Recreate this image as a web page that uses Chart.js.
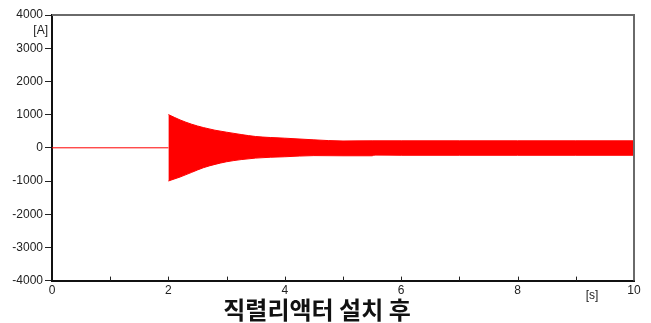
<!DOCTYPE html>
<html>
<head>
<meta charset="utf-8">
<script src="https://cdn.jsdelivr.net/npm/chart.js@4/dist/chart.umd.min.js"></script>
<style>
  html, body { margin: 0; padding: 0; background: #fff; }
  #wrap { width: 651px; height: 323px; position: relative; }
</style>
</head>
<body>
<div id="wrap"><canvas id="c" width="651" height="323"></canvas></div>
<script>
// Current waveform after installing the series reactor [A] vs time [s]
const titleText = '직렬리액터 설치 후';
const yTicks = [-4000, -3000, -2000, -1000, 0, 1000, 2000, 3000, 4000];
const xTickLabels = [0, 2, 4, 6, 8, 10];

// No current before switching
const preTime = [0, 2.0];
const preValue = [0, 0];

// Peak envelope of the oscillating current after switching at t = 2 s
const envTime  = [2.0, 2.2, 2.4, 2.6, 2.8, 3.0, 3.25, 3.5, 3.75, 4.0, 4.5, 5.0, 5.5, 5.55, 6.0, 7.0, 8.0, 9.0, 10.0];
const envUpper = [1000, 840, 710, 610, 530, 470, 400, 340, 310, 290, 240, 205, 210, 210, 210, 210, 210, 210, 210];
const envLower = [-1000, -880, -740, -600, -500, -420, -355, -310, -285, -270, -235, -240, -240, -220, -225, -225, -225, -225, -225];

const pts = (xs, ys) => xs.map((x, i) => ({ x: x, y: ys[i] }));
const RED = '#ff0000';

// Frame, inward time ticks and unit labels
const decor = {
  id: 'decor',
  afterDraw(chart) {
    const { ctx, chartArea: a, scales } = chart;
    const xs = scales.x;
    ctx.save();
    // top and right frame lines
    ctx.strokeStyle = '#6a6a6a';
    ctx.lineWidth = 2;
    ctx.beginPath();
    ctx.moveTo(a.left, a.top);
    ctx.lineTo(a.right, a.top);
    ctx.lineTo(a.right, a.bottom);
    ctx.stroke();
    // short inward ticks on the time axis
    ctx.strokeStyle = '#222';
    ctx.lineWidth = 1;
    for (let t = 1; t < 10; t++) {
      const px = Math.round(xs.getPixelForValue(t)) + 0.5;
      ctx.beginPath();
      ctx.moveTo(px, a.bottom);
      ctx.lineTo(px, a.bottom - 4);
      ctx.stroke();
    }
    // unit labels
    ctx.fillStyle = '#222';
    ctx.font = '12px "Liberation Sans", Arial, sans-serif';
    ctx.textAlign = 'right';
    ctx.textBaseline = 'middle';
    ctx.fillText('[A]', a.left - 4, a.top + 16);
    ctx.textAlign = 'center';
    ctx.fillText('[s]', xs.getPixelForValue(9.28), a.bottom + 15);
    ctx.restore();
  }
};

new Chart(document.getElementById('c'), {
  type: 'line',
  data: {
    datasets: [
      {
        data: pts(preTime, preValue),
        borderColor: RED,
        borderWidth: 1,
        pointRadius: 0,
        fill: false
      },
      {
        data: pts(envTime, envUpper),
        borderColor: RED,
        borderWidth: 1,
        backgroundColor: RED,
        pointRadius: 0,
        cubicInterpolationMode: 'monotone',
        fill: '+1'
      },
      {
        data: pts(envTime, envLower),
        borderColor: RED,
        borderWidth: 1,
        pointRadius: 0,
        cubicInterpolationMode: 'monotone',
        fill: false
      }
    ]
  },
  options: {
    responsive: false,
    animation: false,
    layout: { padding: { left: 0, right: 17, top: 15, bottom: 0 } },
    plugins: {
      legend: { display: false },
      tooltip: { enabled: false },
      title: {
        display: true,
        position: 'bottom',
        text: titleText,
        color: '#111',
        font: { family: '"Noto Sans CJK KR", sans-serif', size: 24, weight: 'bold', lineHeight: 1.1 },
        padding: { top: 1, bottom: 0 }
      }
    },
    scales: {
      x: {
        type: 'linear',
        min: 0,
        max: 10,
        afterBuildTicks(scale) {
          scale.ticks = xTickLabels.map(v => ({ value: v }));
        },
        afterFit(scale) { scale.height = 15; },
        grid: { display: true, drawOnChartArea: false, drawTicks: false },
        border: { display: true, color: '#111', width: 2 },
        ticks: {
          color: '#222',
          padding: 3,
          maxRotation: 0,
          font: { family: '"Liberation Sans", Arial, sans-serif', size: 12 },
          callback: v => String(v)
        }
      },
      y: {
        min: -4000,
        max: 4000,
        afterBuildTicks(scale) {
          scale.ticks = yTicks.map(v => ({ value: v }));
        },
        afterFit(scale) { scale.width = 52; },
        grid: { display: true, drawOnChartArea: false, drawTicks: true, tickLength: 7, color: '#222' },
        border: { display: true, color: '#111', width: 2 },
        ticks: {
          color: '#222',
          padding: 2,
          font: { family: '"Liberation Sans", Arial, sans-serif', size: 12 },
          callback: v => String(v)
        }
      }
    }
  },
  plugins: [decor]
});
</script>
</body>
</html>
